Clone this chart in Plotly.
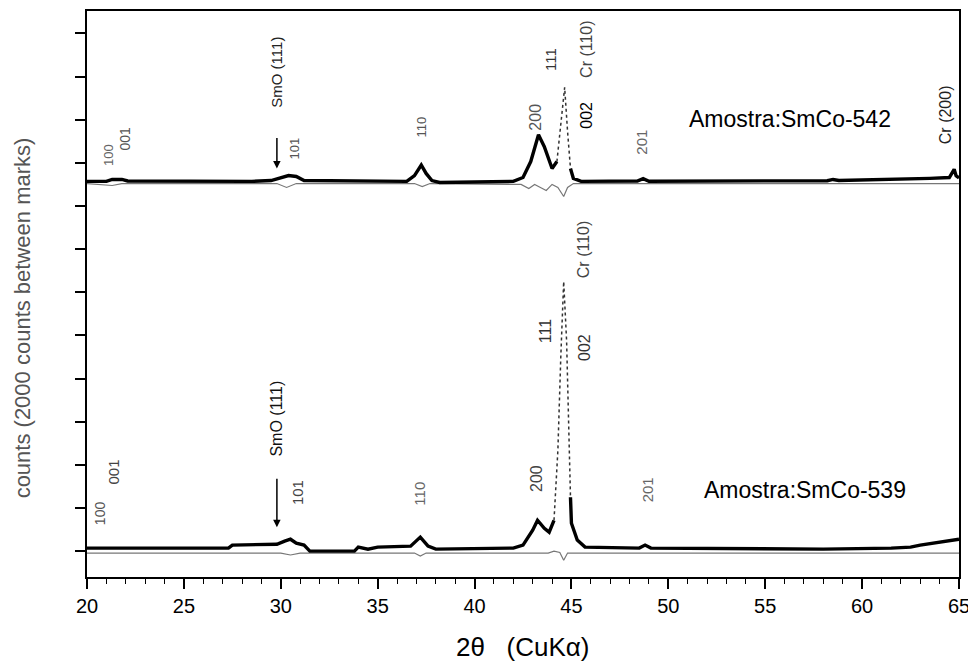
import plotly.graph_objects as go

# ---------------- data (2theta in degrees, intensity in counts) ----------------
# Sample SmCo-542 (upper pattern) - observed, thick line
up_x = [20.0, 21.0, 21.3, 21.8, 22.1, 28.5, 29.5, 30.0, 30.4, 30.8, 31.2, 36.5, 36.9, 37.25, 37.5, 37.8, 38.2,
        42.0, 42.5, 42.9, 43.3, 43.6, 44.0, 44.25, None,
        44.95, 45.1, 45.5, 48.4, 48.7, 49.0, 58.2, 58.5, 58.8, 62.5, 63.5, 64.5, 64.75, 64.85, 65.0]
up_y = [17140, 17140, 17230, 17230, 17160, 17140, 17180, 17320, 17410, 17370, 17180, 17140, 17410, 17900, 17510, 17180, 17090,
        17140, 17320, 18060, 19300, 18750, 17740, 18060, None,
        17740, 17280, 17140, 17160, 17270, 17150, 17170, 17230, 17180, 17230, 17280, 17320, 17700, 17400, 17300]
# sharp Cr(110)/111 peak region, sparse (dotted) points
up_pk_x = [44.25, 44.45, 44.65, 44.8, 44.95]
up_pk_y = [18060, 19900, 21500, 19450, 17740]
# difference curve (thin)
up_d_x = [20.0, 21.3, 21.8, 29.8, 30.3, 30.8, 36.9, 37.3, 37.7, 42.4, 42.8, 43.1, 43.4, 43.7, 44.0, 44.3, 44.6, 44.8, 45.1, 45.5, 65.0]
up_d_y = [17040, 16950, 17040, 17040, 16860, 17040, 17040, 16900, 17040, 17000, 16810, 17000, 16860, 16720, 17000, 16860, 16440, 16860, 17040, 17040, 17040]

# Sample SmCo-539 (lower pattern)
lo_x = [20.0, 27.3, 27.5, 29.8, 30.2, 30.5, 30.8, 31.2, 31.5, 33.8, 34.0, 34.5, 35.0, 36.7, 37.2, 37.6, 38.0,
        42.0, 42.5, 43.0, 43.25, 43.6, 43.85, 44.1, None,
        44.95, 45.0, 45.3, 45.7, 48.5, 48.8, 49.1, 58.0, 61.5, 62.5, 63.0, 64.0, 64.5, 65.0]
lo_y = [140, 140, 280, 320, 460, 550, 370, 280, 0, 0, 185, 90, 185, 230, 650, 230, 90,
        140, 280, 970, 1430, 1060, 880, 1430, None,
        2500, 1290, 510, 185, 140, 280, 140, 90, 140, 185, 280, 420, 510, 550]
lo_pk_x = [44.1, 44.3, 44.45, 44.6, 44.75, 44.85, 44.95]
lo_pk_y = [1430, 4670, 9000, 12500, 9750, 5500, 2500]
lo_d_x = [20.0, 30.0, 30.5, 31.0, 36.9, 37.2, 37.5, 43.8, 44.1, 44.4, 44.6, 44.8, 45.2, 65.0]
lo_d_y = [-90, -90, -180, -90, -90, -230, -90, -90, 0, -60, -420, -90, -90, -90]

# peak labels
lbl_text = ["100", "001", "SmO (111)", "101", "110", "200", "111", "002", "Cr (110)", "201", "Cr (200)",
            "100", "001", "SmO (111)", "101", "110", "200", "111", "002", "Cr (110)", "201"]
lbl_x = [21.1, 21.95, 29.8, 30.73, 37.28, 43.17, 43.95, 45.8, 45.8, 48.64, 64.3,
         20.67, 21.35, 29.8, 30.83, 37.15, 43.2, 43.7, 45.7, 45.6, 48.9]
lbl_y = [18380, 19120, 22220, 18660, 19680, 20140, 22770, 20230, 23280, 18980, 20230,
         1760, 3650, 6140, 2730, 2680, 3370, 10210, 9420, 14000, 2820]
lbl_size = [13, 14, 15, 13, 13, 16, 15, 16, 16, 15, 16,
            14, 15, 16, 15, 15, 16, 16, 16, 16, 15]
lbl_color = ["#666", "#555", "#222", "#555", "#555", "#555", "#333", "#000", "#444", "#666", "#222",
             "#555", "#444", "#111", "#444", "#666", "#444", "#333", "#333", "#444", "#666"]

sample_names = ["Amostra:SmCo-542", "Amostra:SmCo-539"]
sample_x = [56.27, 57.05]
sample_y = [20050, 2820]

arrow_x = [29.8, 29.8]
arrow_y = [17740, 1110]
arrow_len = [-32, -50]

x_ticks = [20, 25, 30, 35, 40, 45, 50, 55, 60, 65]
y_tick_step = 2000

FONT = "Arial, Liberation Sans, sans-serif"

# ---------------- figure ----------------
fig = go.Figure()

for dx, dy in [(up_d_x, up_d_y), (lo_d_x, lo_d_y)]:
    fig.add_trace(go.Scatter(x=dx, y=dy, mode="lines", line=dict(color="#777", width=1.2),
                             hoverinfo="skip", showlegend=False))
for px, py in [(up_pk_x, up_pk_y), (lo_pk_x, lo_pk_y)]:
    fig.add_trace(go.Scatter(x=px, y=py, mode="lines", line=dict(color="#333", width=1.5, dash="dot"),
                             hoverinfo="skip", showlegend=False))
for ox, oy in [(up_x, up_y), (lo_x, lo_y)]:
    fig.add_trace(go.Scatter(x=ox, y=oy, mode="lines", line=dict(color="black", width=3.4),
                             connectgaps=False, hoverinfo="skip", showlegend=False))

ann = []
for t, x, y, s, c in zip(lbl_text, lbl_x, lbl_y, lbl_size, lbl_color):
    ann.append(dict(x=x, y=y, xref="x", yref="y", text=t, showarrow=False, textangle=-90,
                    font=dict(family=FONT, size=s, color=c),
                    xanchor="center", yanchor="middle"))
for t, x, y in zip(sample_names, sample_x, sample_y):
    ann.append(dict(x=x, y=y, xref="x", yref="y", text=t, showarrow=False,
                    font=dict(family=FONT, size=23, color="black"),
                    xanchor="center", yanchor="middle"))
for x, y, L in zip(arrow_x, arrow_y, arrow_len):
    ann.append(dict(x=x, y=y, xref="x", yref="y", ax=0, ay=L, text="", showarrow=True,
                    arrowhead=2, arrowsize=1, arrowwidth=1.5, arrowcolor="black"))

ann.append(dict(x=0.5, y=-0.1245, xref="paper", yref="paper", text="2θ&nbsp;&nbsp; (CuKα)", showarrow=False,
                font=dict(family=FONT, size=26, color="black"),
                xanchor="center", yanchor="middle"))
ann.append(dict(x=-0.0745, y=0.457, xref="paper", yref="paper",
                text="counts (2000 counts between marks)", showarrow=False, textangle=-90,
                font=dict(family=FONT, size=22, color="#555"),
                xanchor="center", yanchor="middle"))

# the page adds an 8 px body margin; the figure is sized so the plot area lands where the reference has it
fig.update_layout(
    width=968, height=658,
    margin=dict(l=79, r=17, t=1, b=89),
    paper_bgcolor="white", plot_bgcolor="white",
    annotations=ann,
    showlegend=False,
    xaxis=dict(range=[20, 65], tickvals=x_ticks, ticktext=[str(v) for v in x_ticks],
               ticks="outside", ticklen=10, tickwidth=1.5, tickcolor="black",
               minor=dict(dtick=1, ticks="outside", ticklen=5, tickwidth=1.2, tickcolor="black"),
               showline=True, linecolor="black", linewidth=2, mirror=True,
               showgrid=False, zeroline=False,
               tickfont=dict(family=FONT, size=20, color="black")),
    yaxis=dict(range=[-1200, 25040], tick0=0, dtick=y_tick_step, showticklabels=False,
               ticks="outside", ticklen=10, tickwidth=1.5, tickcolor="black",
               showline=True, linecolor="black", linewidth=2, mirror=True,
               showgrid=False, zeroline=False),
)

fig.write_html("out.html")
